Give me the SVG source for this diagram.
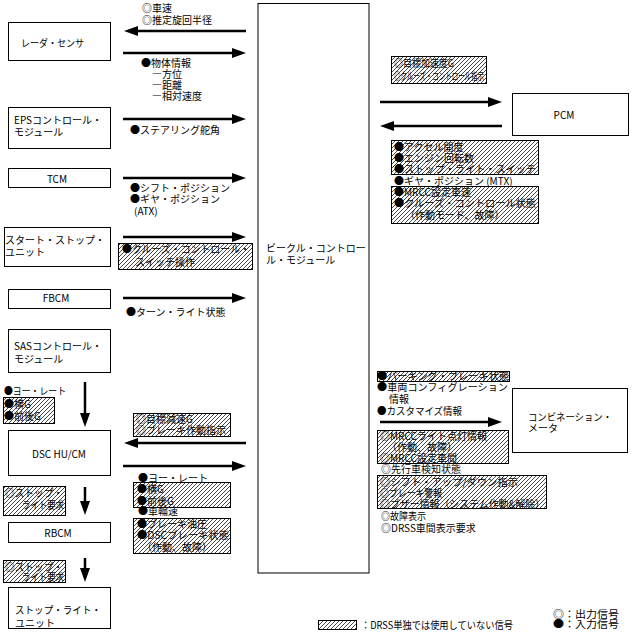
<svg xmlns="http://www.w3.org/2000/svg" width="635" height="644" viewBox="0 0 635 644">
<style>
.t{font-family:"Noto Sans CJK JP","Noto Sans",sans-serif;font-size:10px;fill:#000;}
.box{fill:#fff;stroke:#000;stroke-width:1;}
.hatch{fill:url(#h);stroke:#000;stroke-width:1;}
.arr{stroke:#000;stroke-width:2.5;fill:none;marker-end:url(#ah);}
</style>
<defs>
<pattern id="h" patternUnits="userSpaceOnUse" width="4" height="4">
<rect width="4" height="4" fill="#fff"/>
<path d="M-1,1 L1,-1 M0,4 L4,0 M3,5 L5,3" stroke="#333" stroke-width="0.9"/>
</pattern>
<marker id="ah" markerUnits="userSpaceOnUse" markerWidth="14" markerHeight="10" refX="2" refY="5" orient="auto">
<path d="M0,0 L14,5 L0,10 z" fill="#000"/>
</marker>
</defs>
<rect width="635" height="644" fill="#fff"/>

<g id="vcm">
<rect class="box" x="258" y="3.5" width="111" height="569.5"/>
<text class="t" x="266" y="252">ビークル・コントロー</text>
<text class="t" x="266" y="264">ル・モジュール</text>
</g>
<g id="radar">
<rect class="box" x="8.5" y="22.5" width="102" height="38"/>
<text class="t" x="21" y="47" textLength="63" lengthAdjust="spacingAndGlyphs">レーダ・センサ</text>
</g>
<g id="eps">
<rect class="box" x="8.5" y="107.5" width="102" height="41"/>
<text class="t" x="14" y="124">EPSコントロール・</text>
<text class="t" x="14" y="136">モジュール</text>
</g>
<g id="tcm">
<rect class="box" x="8.5" y="168.5" width="102" height="19"/>
<text class="t" x="57" y="183" text-anchor="middle">TCM</text>
</g>
<g id="ssu">
<rect class="box" x="4.5" y="227.5" width="106" height="39"/>
<text class="t" x="5" y="244">スタート・ストップ・</text>
<text class="t" x="5" y="256">ユニット</text>
</g>
<g id="fbcm">
<rect class="box" x="8.5" y="289.5" width="102" height="19"/>
<text class="t" x="56" y="302" text-anchor="middle">FBCM</text>
</g>
<g id="sas">
<rect class="box" x="8.5" y="329.5" width="102" height="43"/>
<text class="t" x="14" y="350">SASコントロール・</text>
<text class="t" x="14" y="363">モジュール</text>
</g>
<g id="dsc">
<rect class="box" x="8.5" y="430.5" width="102" height="45"/>
<text class="t" x="59" y="458" text-anchor="middle">DSC HU/CM</text>
</g>
<g id="rbcm">
<rect class="box" x="8.5" y="522.5" width="102" height="20"/>
<text class="t" x="58" y="537" text-anchor="middle">RBCM</text>
</g>
<g id="slu">
<rect class="box" x="8.5" y="587.5" width="102" height="41"/>
<text class="t" x="15" y="614" textLength="86" lengthAdjust="spacingAndGlyphs">ストップ・ライト・</text>
<text class="t" x="15" y="627">ユニット</text>
</g>
<g id="pcm">
<rect class="box" x="512.5" y="93.5" width="116" height="42"/>
<text class="t" x="564" y="119" text-anchor="middle">PCM</text>
</g>
<g id="meter">
<rect class="box" x="512.5" y="388.5" width="115" height="64"/>
<text class="t" x="528" y="421" textLength="84" lengthAdjust="spacingAndGlyphs">コンビネーション・</text>
<text class="t" x="528" y="432">メータ</text>
</g>

<g id="connectors">
<line class="arr" x1="246" y1="31" x2="136" y2="31"/>
<line class="arr" x1="123" y1="53" x2="234" y2="53"/>
<line class="arr" x1="123" y1="119" x2="234" y2="119"/>
<line class="arr" x1="123" y1="178" x2="234" y2="178"/>
<line class="arr" x1="123" y1="237" x2="234" y2="237"/>
<line class="arr" x1="123" y1="298" x2="234" y2="298"/>
<line class="arr" x1="246" y1="443" x2="136" y2="443"/>
<line class="arr" x1="123" y1="466" x2="234" y2="466"/>
<line class="arr" x1="380" y1="102" x2="490" y2="102"/>
<line class="arr" x1="502" y1="126" x2="392" y2="126"/>
<line class="arr" x1="380" y1="422" x2="490" y2="422"/>
<line class="arr" x1="85" y1="382" x2="85" y2="415"/>
<line class="arr" x1="85" y1="487" x2="85" y2="503"/>
<line class="arr" x1="85" y1="558" x2="85" y2="570"/>
</g>

<g id="labels">
<text class="t" x="142" y="12">◎車速</text>
<text class="t" x="142" y="24">◎推定旋回半径</text>
<text class="t" x="141" y="67">●物体情報</text>
<text class="t" x="152" y="78">―方位</text>
<text class="t" x="152" y="89">―距離</text>
<text class="t" x="152" y="100">―相対速度</text>
<text class="t" x="130" y="134">●ステアリング舵角</text>
<text class="t" x="130" y="192">●シフト・ポジション</text>
<text class="t" x="130" y="203">●ギヤ・ポジション</text>
<text class="t" x="134" y="215">(ATX)</text>
<rect class="hatch" x="118.5" y="243.5" width="134" height="26"/>
<text class="t" x="122" y="253" textLength="128" lengthAdjust="spacingAndGlyphs">●クルーズ・コントロール・</text>
<text class="t" x="135" y="266">スイッチ操作</text>
<text class="t" x="126" y="316">●ターン・ライト状態</text>
<text class="t" x="4" y="395" textLength="62" lengthAdjust="spacingAndGlyphs">●ヨー・レート</text>
<rect class="hatch" x="3.5" y="397.5" width="51" height="26"/>
<text class="t" x="4" y="408">●横G</text>
<text class="t" x="4" y="420">●前後G</text>
<rect class="hatch" x="133.5" y="413.5" width="97" height="23"/>
<text class="t" x="136" y="423">◎目標減速G</text>
<text class="t" x="136" y="434" textLength="90" lengthAdjust="spacingAndGlyphs">◎ブレーキ作動指示</text>
<text class="t" x="138" y="482">●ヨー・レート</text>
<rect class="hatch" x="133.5" y="482.5" width="97" height="25"/>
<text class="t" x="137" y="493">●横G</text>
<text class="t" x="137" y="505">●前後G</text>
<text class="t" x="138" y="515">●車輪速</text>
<rect class="hatch" x="133.5" y="518.5" width="97" height="35"/>
<text class="t" x="137" y="528">●ブレーキ油圧</text>
<text class="t" x="137" y="539" textLength="92" lengthAdjust="spacingAndGlyphs">●DSCブレーキ状態</text>
<text class="t" x="142" y="551">（作動、故障）</text>
<rect class="hatch" x="3.5" y="486.5" width="62" height="29"/>
<text class="t" x="5" y="497" textLength="58" lengthAdjust="spacingAndGlyphs">◎ストップ・</text>
<text class="t" x="22" y="509" textLength="42" lengthAdjust="spacingAndGlyphs">ライト要求</text>
<rect class="hatch" x="3.5" y="560.5" width="62" height="22"/>
<text class="t" x="5" y="571" textLength="58" lengthAdjust="spacingAndGlyphs">◎ストップ・</text>
<text class="t" x="22" y="581" textLength="42" lengthAdjust="spacingAndGlyphs">ライト要求</text>
<rect class="hatch" x="391.5" y="56.5" width="95" height="27"/>
<text class="t" x="394" y="67" textLength="60" lengthAdjust="spacingAndGlyphs">◎目標加速度G</text>
<text class="t" x="394" y="80" textLength="90" lengthAdjust="spacingAndGlyphs">◎クルーズ・コントロール指示</text>
<rect class="hatch" x="391.5" y="140.5" width="147" height="34"/>
<text class="t" x="394" y="151">●アクセル開度</text>
<text class="t" x="394" y="162">●エンジン回転数</text>
<text class="t" x="394" y="173" textLength="142" lengthAdjust="spacingAndGlyphs">●ストップ・ライト・スイッチ</text>
<text class="t" x="394" y="185">●ギヤ・ポジション (MTX)</text>
<rect class="hatch" x="391.5" y="186.5" width="147" height="37"/>
<text class="t" x="394" y="196">●MRCC設定車速</text>
<text class="t" x="394" y="207" textLength="142" lengthAdjust="spacingAndGlyphs">●クルーズ・コントロール状態</text>
<text class="t" x="405" y="219">（作動モード、故障）</text>
<rect class="hatch" x="377.5" y="371.5" width="132" height="10"/>
<text class="t" x="377" y="380" textLength="132" lengthAdjust="spacingAndGlyphs">●パーキング・ブレーキ状態</text>
<text class="t" x="377" y="391" textLength="131" lengthAdjust="spacingAndGlyphs">●車両コンフィグレーション</text>
<text class="t" x="389" y="403">情報</text>
<text class="t" x="377" y="415" textLength="85" lengthAdjust="spacingAndGlyphs">●カスタマイズ情報</text>
<rect class="hatch" x="377.5" y="430.5" width="131" height="33"/>
<text class="t" x="380" y="440">◎MRCCライト点灯情報</text>
<text class="t" x="387" y="451">（作動、故障）</text>
<text class="t" x="380" y="462">◎MRCC設定車間</text>
<text class="t" x="381" y="473">◎先行車検知状態</text>
<rect class="hatch" x="377.5" y="475.5" width="169" height="33"/>
<text class="t" x="380" y="486" textLength="138" lengthAdjust="spacingAndGlyphs">◎シフト・アップ/ダウン指示</text>
<text class="t" x="380" y="497" textLength="62" lengthAdjust="spacingAndGlyphs">◎ブレーキ警報</text>
<text class="t" x="380" y="508" textLength="165" lengthAdjust="spacingAndGlyphs">◎ブザー情報（システム作動&amp;解除）</text>
<text class="t" x="381" y="520" textLength="45" lengthAdjust="spacingAndGlyphs">◎故障表示</text>
<text class="t" x="381" y="532">◎DRSS車間表示要求</text>
</g>

<g id="legend">
<rect class="hatch" x="318.5" y="620.5" width="38" height="9"/>
<text class="t" x="361" y="629" textLength="152" lengthAdjust="spacingAndGlyphs">：DRSS単独では使用していない信号</text>
<text class="t" x="553" y="618" textLength="66" lengthAdjust="spacingAndGlyphs">◎：出力信号</text>
<text class="t" x="553" y="628" textLength="66" lengthAdjust="spacingAndGlyphs">●：入力信号</text>
</g>
</svg>
